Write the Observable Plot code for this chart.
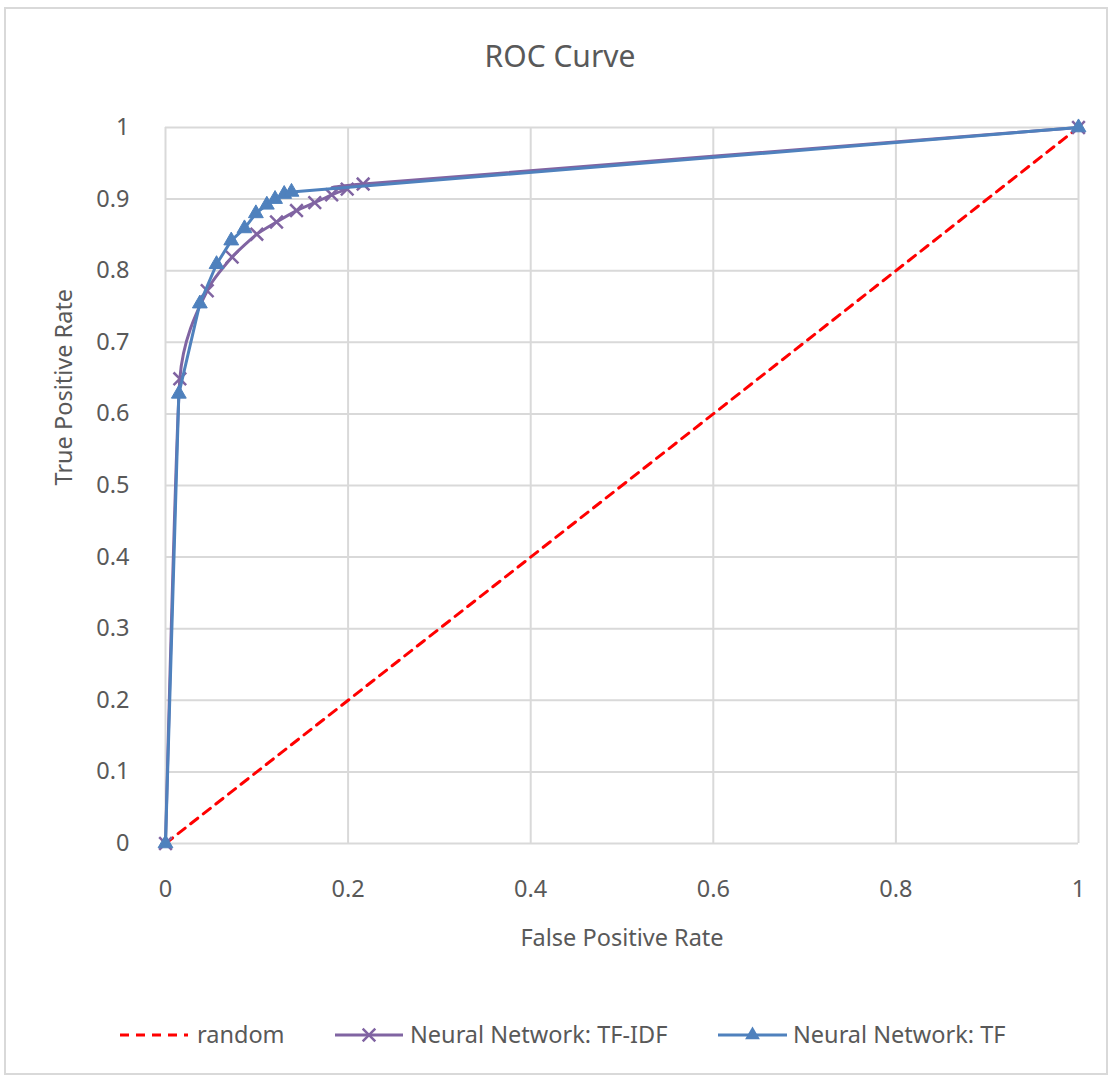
<!DOCTYPE html>
<html>
<head>
<meta charset="utf-8">
<script src="https://cdn.jsdelivr.net/npm/d3@7"></script>
<script src="https://cdn.jsdelivr.net/npm/@observablehq/plot@0.6"></script>
<style>
  html, body { margin: 0; padding: 0; background: #fff; }
  #wrap { position: relative; width: 1112px; height: 1079px; overflow: hidden; font-family: "Noto Sans", "Open Sans", sans-serif; color: #595959; }
  #frame { position: absolute; left: 4px; top: 7px; width: 1104px; height: 1068px; border: 2px solid #d9d9d9; box-sizing: border-box; }
  #title { position: absolute; left: 0; width: 1120px; top: 36px; text-align: center; font-size: 30px; line-height: 40px; }
  #chart { position: absolute; left: 0; top: 100px; }
  #legend { position: absolute; left: 0; top: 1018px; height: 34px; width: 1112px; }
  #legend svg { overflow: visible; }
</style>
</head>
<body>
<div id="wrap">
  <div id="frame"></div>
  <div id="title">ROC Curve</div>
  <div id="chart"></div>
  <div id="legend"></div>
</div>
<script>
// Chance diagonal
const randomFpr = [0, 1];
const randomTpr = [0, 1];

// Neural Network with TF-IDF features
const tfidfFpr = [0, 0.0157, 0.0457, 0.073, 0.100, 0.1216, 0.1435, 0.1635, 0.182, 0.199, 0.2165, 1];
const tfidfTpr = [0, 0.649, 0.772, 0.819, 0.851, 0.868, 0.884, 0.895, 0.906, 0.914, 0.921, 1];

// Neural Network with TF features
const tfFpr = [0, 0.0146, 0.0376, 0.0559, 0.072, 0.0865, 0.099, 0.111, 0.120, 0.130, 0.138, 1];
const tfTpr = [0, 0.628, 0.754, 0.809, 0.842, 0.859, 0.880, 0.892, 0.900, 0.907, 0.910, 1];

const xTicks = [0, 0.2, 0.4, 0.6, 0.8, 1];
const yTicks = [0, 0.1, 0.2, 0.3, 0.4, 0.5, 0.6, 0.7, 0.8, 0.9, 1];

const seriesNames = ["random", "Neural Network: TF-IDF", "Neural Network: TF"];
const seriesColors = ["#ff0000", "#8064a2", "#4f81bd"];

const toPoints = (xs, ys) => xs.map((x, i) => ({x, y: ys[i]}));
const randomPts = toPoints(randomFpr, randomTpr);
const tfidfPts = toPoints(tfidfFpr, tfidfTpr);
const tfPts = toPoints(tfFpr, tfTpr);

const fmt = d => String(+d.toFixed(1));
const gridColor = "#d9d9d9";
const textColor = "#595959";
const fontSize = 23.5;

const chart = Plot.plot({
  width: 1112,
  height: 870,
  marginLeft: 165,
  marginRight: 34,
  marginTop: 27,
  marginBottom: 127,
  style: {fontFamily: "'Noto Sans', 'Open Sans', sans-serif", fontSize: `${fontSize}px`, color: textColor, background: "transparent", overflow: "visible"},
  x: {domain: [0, 1], ticks: xTicks, tickFormat: fmt, label: null},
  y: {domain: [0, 1], ticks: yTicks, tickFormat: fmt, label: null},
  marks: [
    Plot.gridX(xTicks, {stroke: gridColor, strokeOpacity: 1, strokeWidth: 2}),
    Plot.gridY(yTicks, {stroke: gridColor, strokeOpacity: 1, strokeWidth: 2}),
    Plot.axisX(xTicks, {tickSize: 0, tickPadding: 37, tickFormat: fmt, fill: textColor, fontSize}),
    Plot.axisY(yTicks, {tickSize: 0, tickPadding: 36, tickFormat: fmt, fill: textColor, fontSize}),
    Plot.text(["False Positive Rate"], {frameAnchor: "bottom", dy: 102, fill: textColor, fontSize}),
    Plot.text(["True Positive Rate"], {frameAnchor: "left", dx: -101, rotate: -90, fill: textColor, fontSize}),
    Plot.line(randomPts, {x: "x", y: "y", stroke: seriesColors[0], strokeWidth: 3, strokeDasharray: "9,7"}),
    // gently smoothed line; a tensioned cardinal spline keeps the long segments nearly straight
    Plot.line(tfidfPts, {x: "x", y: "y", stroke: seriesColors[1], strokeWidth: 3, curve: "cardinal", tension: 0.5}),
    Plot.dot(tfidfPts, {x: "x", y: "y", symbol: "times", r: 5.8, stroke: seriesColors[1], strokeWidth: 2.5}),
    Plot.line(tfPts, {x: "x", y: "y", stroke: seriesColors[2], strokeWidth: 3}),
    Plot.dot(tfPts, {x: "x", y: "y", symbol: "triangle", r: 5.5, fill: seriesColors[2], stroke: seriesColors[2], strokeWidth: 1})
  ]
});
document.getElementById("chart").appendChild(chart);

// Legend row: sample line + marker, then label
const legendItems = [
  {name: seriesNames[0], color: seriesColors[0], x0: 120, x1: 188, tx: 197, dash: "9,7", symbol: null},
  {name: seriesNames[1], color: seriesColors[1], x0: 335, x1: 403, tx: 410, dash: null, symbol: d3.symbolTimes},
  {name: seriesNames[2], color: seriesColors[2], x0: 718, x1: 787, tx: 793, dash: null, symbol: d3.symbolTriangle}
];
const lg = d3.select("#legend").append("svg").attr("width", 1112).attr("height", 34);
const cy = 17;
for (const it of legendItems) {
  lg.append("line").attr("x1", it.x0).attr("x2", it.x1).attr("y1", cy).attr("y2", cy)
    .attr("stroke", it.color).attr("stroke-width", 3).attr("stroke-dasharray", it.dash);
  if (it.symbol === d3.symbolTimes) {
    lg.append("path").attr("d", d3.symbol(d3.symbolTimes, 5.8 * 5.8 * Math.PI)())
      .attr("transform", `translate(${(it.x0 + it.x1) / 2},${cy})`)
      .attr("stroke", it.color).attr("stroke-width", 2.5).attr("fill", "none");
  } else if (it.symbol === d3.symbolTriangle) {
    lg.append("path").attr("d", d3.symbol(d3.symbolTriangle, 5.5 * 5.5 * Math.PI)())
      .attr("transform", `translate(${(it.x0 + it.x1) / 2},${cy})`)
      .attr("fill", it.color);
  }
  lg.append("text").attr("x", it.tx).attr("y", cy).attr("dy", "0.35em")
    .attr("fill", textColor).style("font-family", "'Noto Sans', 'Open Sans', sans-serif")
    .style("font-size", `${fontSize}px`).text(it.name);
}
</script>
</body>
</html>
